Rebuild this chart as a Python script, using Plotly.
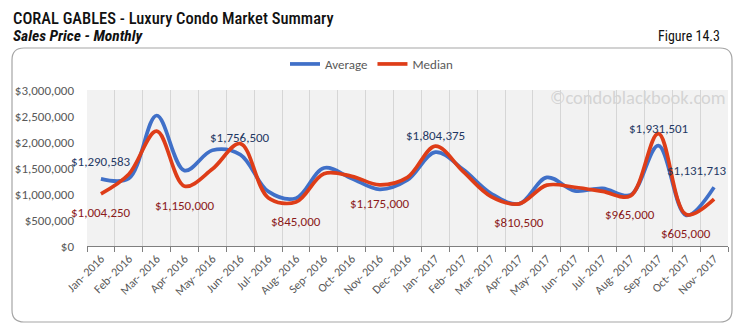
import plotly.graph_objects as go

# Monthly sales prices, Coral Gables luxury condos
months = ["Jan- 2016", "Feb- 2016", "Mar- 2016", "Apr- 2016", "May- 2016", "Jun- 2016",
          "Jul- 2016", "Aug- 2016", "Sep- 2016", "Oct- 2016", "Nov- 2016", "Dec- 2016",
          "Jan- 2017", "Feb- 2017", "Mar- 2017", "Apr- 2017", "May- 2017", "Jun- 2017",
          "Jul- 2017", "Aug- 2017", "Sep- 2017", "Oct- 2017", "Nov- 2017"]
average = [1290583, 1300000, 2510000, 1450000, 1840000, 1756500, 1050000, 920000,
           1500000, 1300000, 1090000, 1270000, 1804375, 1470000, 1010000, 810000,
           1320000, 1060000, 1110000, 980000, 1931501, 590000, 1131713]
median = [1004250, 1380000, 2210000, 1150000, 1480000, 1970000, 930000, 845000,
          1390000, 1340000, 1175000, 1320000, 1920000, 1430000, 950000, 810500,
          1170000, 1130000, 1050000, 965000, 2160000, 605000, 900000]
avg_labelled = [0, 5, 12, 20, 22]
med_labelled = [0, 3, 7, 10, 15, 19, 21]
y_ticks = [0, 500000, 1000000, 1500000, 2000000, 2500000, 3000000]

W, H = 743, 333
L, R, T, B = 87, 728, 90, 246  # plot area in pixels


def px(x):
    return (x - L) / (R - L)


def py(y):
    return (B - y) / (B - T)


BLUE = "#4070C8"
RED = "#DE3D18"
GREY = "#595959"
body_font = "Carlito, Calibri, Lato, sans-serif"
narrow_font = "Roboto Condensed, Arial Narrow, sans-serif"

fig = go.Figure()
fig.add_trace(go.Scatter(x=months, y=average, name="Average", mode="lines",
                         line=dict(color=BLUE, width=3.7, shape="spline", smoothing=1.0)))
fig.add_trace(go.Scatter(x=months, y=median, name="Median", mode="lines",
                         line=dict(color=RED, width=3.7, shape="spline", smoothing=1.0)))

annotations = []
for i in avg_labelled:
    annotations.append(dict(x=months[i], y=average[i], text=f"${average[i]:,.0f}",
                            showarrow=False, yshift=17, xshift=-17 if i == len(months) - 1 else 0,
                            font=dict(family=body_font, size=13, color="#1F3864")))
for i in med_labelled:
    annotations.append(dict(x=months[i], y=median[i], text=f"${median[i]:,.0f}",
                            showarrow=False, yshift=-19,
                            font=dict(family=body_font, size=13, color="#8B1A1A")))

# Headings and watermark
annotations += [
    dict(xref="paper", yref="paper", x=px(11), y=py(18), xanchor="left", yanchor="middle",
         text="CORAL GABLES - Luxury Condo Market Summary", showarrow=False,
         font=dict(family=narrow_font, size=16.5, color="#111111", weight=500)),
    dict(xref="paper", yref="paper", x=px(11), y=py(36), xanchor="left", yanchor="middle",
         text="<b><i>Sales Price - Monthly</i></b>", showarrow=False,
         font=dict(family=narrow_font, size=15.5, color="#111111")),
    dict(xref="paper", yref="paper", x=px(722), y=py(36), xanchor="right", yanchor="middle",
         text="Figure 14.3", showarrow=False,
         font=dict(family=narrow_font, size=14, color="#111111")),
    dict(xref="paper", yref="paper", x=px(728), y=py(97), xanchor="right", yanchor="middle",
         text="©condoblackbook.com", showarrow=False,
         font=dict(family=body_font, size=18.5, color="#D4D4D4")),
]

# Rounded card border around the chart
x0, x1, y0, y1, r = 12, 732, 48, 322, 12
path = (f"M {px(x0 + r)},{py(y0)} L {px(x1 - r)},{py(y0)} "
        f"Q {px(x1)},{py(y0)} {px(x1)},{py(y0 + r)} L {px(x1)},{py(y1 - r)} "
        f"Q {px(x1)},{py(y1)} {px(x1 - r)},{py(y1)} L {px(x0 + r)},{py(y1)} "
        f"Q {px(x0)},{py(y1)} {px(x0)},{py(y1 - r)} L {px(x0)},{py(y0 + r)} "
        f"Q {px(x0)},{py(y0)} {px(x0 + r)},{py(y0)} Z")

fig.update_layout(
    width=W, height=H,
    margin=dict(l=L, r=W - R, t=T, b=H - B, pad=0),
    paper_bgcolor="white",
    plot_bgcolor="#F2F2F2",
    showlegend=True,
    legend=dict(orientation="h", x=px(372), xanchor="center", y=py(64), yanchor="middle",
                font=dict(family=body_font, size=13, color=GREY),
                itemwidth=30, tracegroupgap=0, bgcolor="rgba(0,0,0,0)"),
    annotations=annotations,
    shapes=[dict(type="path", xref="paper", yref="paper", path=path,
                 line=dict(color="#A6A6A6", width=1.2), layer="below")],
    xaxis=dict(type="category", tickson="boundaries", ticks="outside", ticklen=5,
               tickcolor="#7F7F7F", showline=True, linecolor="#7F7F7F", linewidth=1.3,
               showgrid=True, gridcolor="#D6D6D6", gridwidth=1, tickangle=-45,
               tickfont=dict(family=body_font, size=12, color=GREY),
               range=[-0.5, len(months) - 0.5]),
    yaxis=dict(range=[0, 3000000], tickvals=y_ticks,
               ticktext=[f"${v:,.0f}" for v in y_ticks],
               showgrid=False, zeroline=False, showline=False, ticks="",
               ticklabelstandoff=12,
               tickfont=dict(family=body_font, size=13, color=GREY)),
)

fig.write_html("out.html")
